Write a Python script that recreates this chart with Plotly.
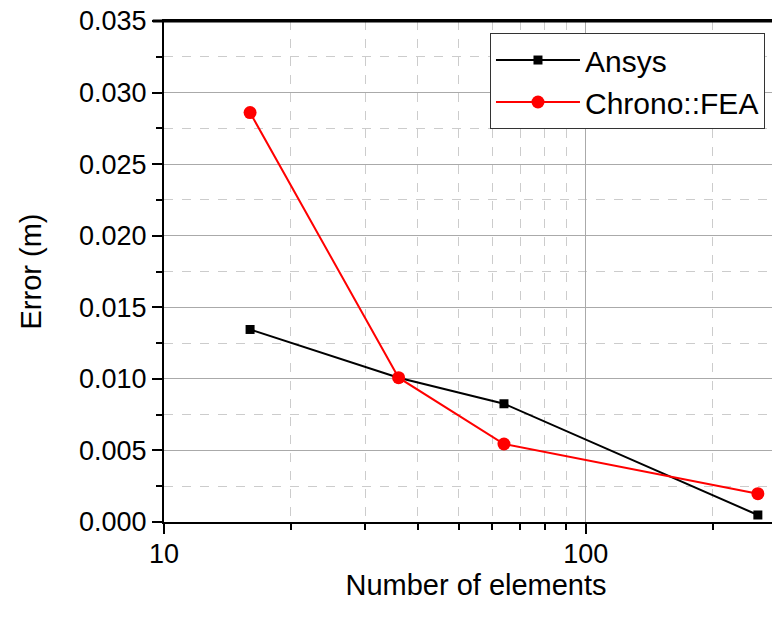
import plotly.graph_objects as go

elements = [16, 36, 64, 256]
ansys_err = [0.01345, 0.01008, 0.00826, 0.00049]
chrono_err = [0.0286, 0.01008, 0.00545, 0.00198]
y_ticks = [0.000, 0.005, 0.010, 0.015, 0.020, 0.025, 0.030, 0.035]

fig = go.Figure()
fig.add_trace(go.Scatter(x=elements, y=ansys_err, mode="lines+markers", name="Ansys",
                         line=dict(color="black", width=2),
                         marker=dict(symbol="square", size=9, color="black")))
fig.add_trace(go.Scatter(x=elements, y=chrono_err, mode="lines+markers", name="Chrono::FEA",
                         line=dict(color="#ff0000", width=2),
                         marker=dict(symbol="circle", size=13, color="#ff0000")))

fig.update_layout(
    width=780, height=620,
    margin=dict(l=156, r=0, t=13, b=106),
    plot_bgcolor="white", paper_bgcolor="white",
    font=dict(family="Arial, Liberation Sans, sans-serif", size=27, color="black"),
    legend=dict(x=0.5224, y=0.976, xanchor="left", yanchor="top",
                bordercolor="#333333", borderwidth=1, bgcolor="white",
                font=dict(size=30), tracegroupgap=0, itemwidth=84),
    xaxis=dict(type="log", range=[1, 2.4797], tickvals=[10, 100], ticktext=["10", "100"],
               automargin=False,
               tickfont=dict(size=27), ticklabelstandoff=-3,
               showline=True, linecolor="black", linewidth=2, mirror=True,
               ticks="outside", ticklen=10, tickwidth=2, tickcolor="black",
               showgrid=True, gridcolor="#aaaaaa", gridwidth=1,
               minor=dict(ticks="outside", ticklen=6, tickwidth=2, tickcolor="black",
                          showgrid=True, gridcolor="#cccccc", griddash="dash",
                          tickvals=[20, 30, 40, 50, 60, 70, 80, 90, 200]),
               title=dict(text="Number of elements", font=dict(size=29), standoff=0),
               zeroline=False),
    yaxis=dict(range=[0, 0.035], tickvals=y_ticks, tickformat=".3f",
               automargin=False, ticklabeloverflow="allow",
               tickfont=dict(size=27),
               showline=True, linecolor="black", linewidth=2,
               ticks="outside", ticklen=10, tickwidth=2, tickcolor="black",
               showgrid=True, gridcolor="#aaaaaa", gridwidth=1,
               minor=dict(ticks="outside", ticklen=6, tickwidth=2, tickcolor="black",
                          showgrid=True, gridcolor="#cccccc", griddash="dash", dtick=0.0025),
               title=dict(text="Error (m)", font=dict(size=29), standoff=29),
               zeroline=False),
    shapes=[dict(type="line", xref="paper", yref="paper", x0=-0.018, x1=1, y0=1, y1=1,
                 line=dict(color="black", width=3), layer="above")],
)

fig.write_html("out.html")
